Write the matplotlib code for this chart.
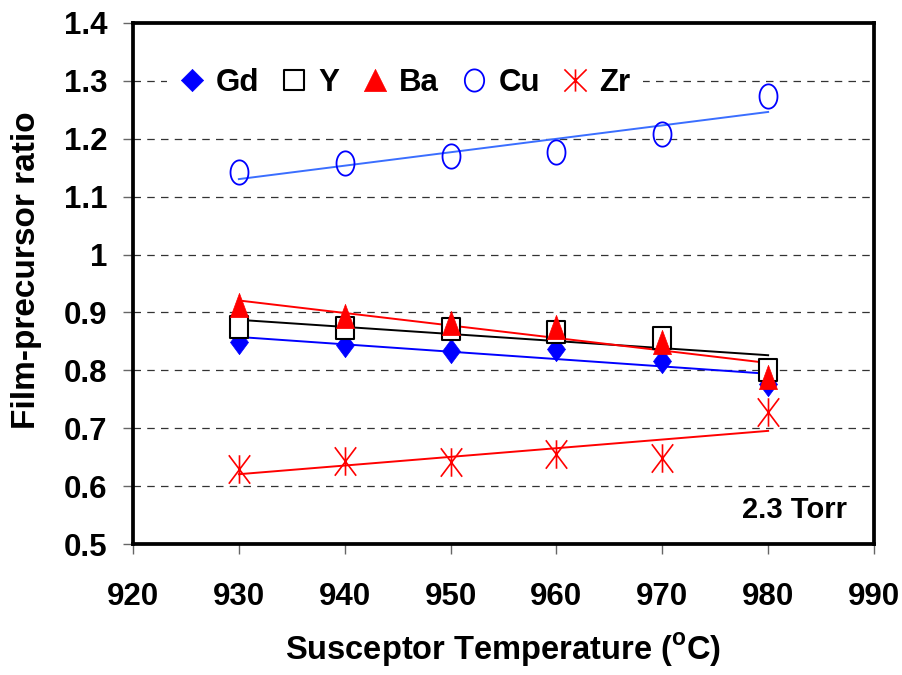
import numpy as np
import matplotlib
matplotlib.use("Agg")
import matplotlib.pyplot as plt
from matplotlib.lines import Line2D
from matplotlib.path import Path

plt.rcParams['font.family'] = ['Liberation Sans', 'DejaVu Sans']
plt.rcParams['font.weight'] = 'bold'
plt.rcParams['mathtext.fontset'] = 'custom'
plt.rcParams['mathtext.bf'] = 'Liberation Sans:bold'
plt.rcParams['mathtext.rm'] = 'Liberation Sans:bold'

temps = [930, 940, 950, 960, 970, 980]
gd = [0.849, 0.844, 0.833, 0.837, 0.816, 0.776]
y_el = [0.874, 0.873, 0.871, 0.867, 0.855, 0.800]
ba = [0.912, 0.894, 0.881, 0.875, 0.849, 0.789]
cu = [1.143, 1.158, 1.170, 1.177, 1.208, 1.274]
zr = [0.629, 0.644, 0.642, 0.656, 0.649, 0.728]
names = ['Gd', 'Y', 'Ba', 'Cu', 'Zr']
xticks = [920, 930, 940, 950, 960, 970, 980, 990]
yticks = [0.5, 0.6, 0.7, 0.8, 0.9, 1.0, 1.1, 1.2, 1.3, 1.4]
yticklabels = ['0.5', '0.6', '0.7', '0.8', '0.9', '1', '1.1', '1.2', '1.3', '1.4']


def marker(kind, a):
    """Marker shapes with horizontal aspect a (width / height)."""
    if kind == 'diamond':
        return Path([(0, 1), (a, 0), (0, -1), (-a, 0), (0, 1)], closed=True)
    if kind == 'square':
        return Path([(-a, -1), (a, -1), (a, 1), (-a, 1), (-a, -1)], closed=True)
    if kind == 'triangle':
        return Path([(0, 1), (a, -1), (-a, -1), (0, 1)], closed=True)
    if kind == 'circle':
        t = np.linspace(0, 2 * np.pi, 61)
        return Path(np.column_stack([a * np.sin(t), np.cos(t)]), closed=True)
    if kind == 'star':
        verts = [(0, -1), (0, 1), (-a, -1), (a, 1), (-a, 1), (a, -1)]
        codes = [Path.MOVETO, Path.LINETO] * 3
        return Path(verts, codes)


styles = {
    'Gd': dict(kind='diamond', a=0.74, la=1.0, mfc='#0000FF', mec='#0000FF', ms=17.5, lms=16.0, mew=0.5, line='#0000FF'),
    'Y': dict(kind='square', a=0.81, la=1.0, mfc='white', mec='black', ms=16.0, lms=15.0, mew=1.5, line='black'),
    'Ba': dict(kind='triangle', a=0.74, la=1.0, mfc='#FF0000', mec='#FF0000', ms=17.5, lms=16.0, mew=0.5, line='#FF0000'),
    'Cu': dict(kind='circle', a=0.74, la=0.87, mfc='none', mec='#0000FF', ms=17.5, lms=16.0, mew=1.3, line='#3A6EFF'),
    'Zr': dict(kind='star', a=0.75, la=1.0, mfc='none', mec='#FF0000', ms=20.5, lms=16.0, mew=1.2, line='#FF0000'),
}
data = {'Gd': gd, 'Y': y_el, 'Ba': ba, 'Cu': cu, 'Zr': zr}

fig = plt.figure(figsize=(9.02, 6.75), dpi=100)
ax = fig.add_axes([133 / 902, 1 - 544 / 675, 741 / 902, 521 / 675])

x = np.array(temps, dtype=float)
handles = []
for name in names:
    st = styles[name]
    v = np.array(data[name])
    p = np.polyfit(x, v, 1)
    ax.plot(x, np.polyval(p, x), '-', color=st['line'], lw=1.4, zorder=2)
    ax.plot(x, v, linestyle='none', marker=marker(st['kind'], st['a']), ms=st['ms'],
            mfc=st['mfc'], mec=st['mec'], mew=st['mew'], zorder=3)
    handles.append(Line2D([], [], linestyle='none', marker=marker(st['kind'], st['la']), ms=st['lms'],
                          mfc=st['mfc'], mec=st['mec'], mew=st['mew'], label=name))

ax.set_xlim(920, 990)
ax.set_ylim(0.5, 1.4)
ax.set_xticks(xticks)
ax.set_yticks(yticks)
ax.set_yticklabels(yticklabels)
for yv in yticks[1:-1]:
    ax.axhline(yv, color='#333333', ls=(0, (6, 5)), lw=0.9, zorder=1)

for s in ax.spines.values():
    s.set_linewidth(2.7)
    s.set_zorder(5)
ax.tick_params(axis='both', direction='out', length=7.5, width=1, color='#666666', labelsize=22.5)
ax.tick_params(axis='y', pad=11)
ax.tick_params(axis='x', pad=20)
for lab in ax.get_xticklabels() + ax.get_yticklabels():
    lab.set_fontweight('bold')

ax.set_xlabel(r'Susceptor Temperature ($^{\mathbf{o}}$C)', fontsize=23.5, fontweight='bold')
ax.xaxis.set_label_coords(0.5, -0.168)
ax.set_ylabel('Film-precursor ratio', fontsize=24, fontweight='bold')
ax.yaxis.set_label_coords(-0.123, 0.526)

leg = ax.legend(handles=handles, loc='center left', bbox_to_anchor=((179 - 12.5) / 902, 1 - 83 / 675),
                bbox_transform=fig.transFigure, ncol=5, frameon=True, fancybox=False,
                facecolor='white', edgecolor='none', framealpha=1.0, borderpad=0.4, borderaxespad=0,
                prop={'size': 22.5, 'weight': 'bold'}, handletextpad=0.38, columnspacing=0.72,
                handlelength=0.8)

ax.text(0.9636, 0.05, '2.3 Torr', transform=ax.transAxes, ha='right', va='baseline',
        fontsize=21, fontweight='bold')

fig.savefig('out.png', dpi=100)
